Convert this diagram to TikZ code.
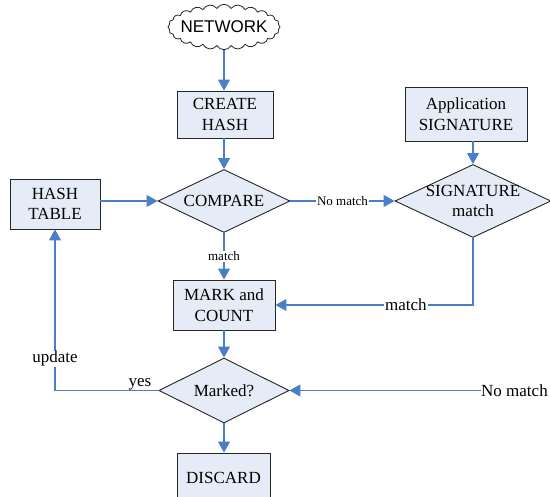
\documentclass[tikz,border=0pt]{standalone}
\usepackage{fontspec}
\setmainfont{Liberation Serif}
\newfontfamily\arialfont{Liberation Sans}
\usetikzlibrary{shapes.geometric,shapes.symbols,arrows.meta}
\definecolor{boxfill}{HTML}{E6ECF7}
\definecolor{linkblue}{HTML}{4A7EC7}
\begin{document}
\begin{tikzpicture}[x=1pt,y=-1pt,
  box/.style={draw=black!85, fill=boxfill, line width=0.9pt, align=center, inner sep=0pt, font=\fontsize{17}{20.5}\selectfont},
  dia/.style={diamond, draw=black!85, fill=boxfill, line width=0.9pt, align=center, inner xsep=-20pt, inner ysep=-10pt, font=\fontsize{17}{20.5}\selectfont},
  link/.style={draw=linkblue, line width=1.1pt, -{Triangle[length=11pt,width=12pt]}},
  small/.style={font=\fontsize{13}{15}\selectfont, fill=white, inner sep=1pt},
  big/.style={font=\fontsize{17}{20}\selectfont, fill=white, inner sep=1pt}]
\useasboundingbox (0,0) rectangle (550,497);
\node[cloud, cloud puffs=24, cloud puff arc=120, aspect=2.8, draw=black!85, fill=white, line width=0.8pt,
      minimum width=112pt, minimum height=40pt, inner sep=-6pt, font=\arialfont\fontsize{17}{20}\selectfont] (net) at (224,27) {NETWORK};
\node[box, minimum width=96pt, minimum height=47pt] (create) at (225,114.5) {CREATE\\HASH};
\node[dia, minimum width=132pt, minimum height=63pt] (compare) at (224,201) {COMPARE};
\node[box, minimum width=90pt, minimum height=50pt] (hash) at (55,204) {HASH\\TABLE};
\node[box, minimum width=122pt, minimum height=54pt] (appsig) at (466,114) {Application\\SIGNATURE};
\node[dia, minimum width=156pt, minimum height=73pt] (sig) at (473,201) {SIGNATURE\\match};
\node[box, minimum width=102pt, minimum height=50pt] (mark) at (224,305) {MARK and\\COUNT};
\node[dia, minimum width=130pt, minimum height=65pt] (marked) at (224,390.5) {Marked?};
\node[box, minimum width=93pt, minimum height=50pt] (discard) at (223.5,478) {DISCARD};
\node[big, anchor=west, inner sep=0pt] (nm) at (481,390.5) {No match};

\draw[link] (net) -- (net |- create.north);
\draw[link] (compare.north |- create.south) -- (compare.north);
\draw[link] (hash.east |- compare.west) -- (compare.west);
\draw[link] (compare.east) -- node[small]{No match} (sig.west);
\draw[link] (appsig.south -| sig.north) -- (sig.north);
\draw[link] (sig.south) |- node[big, pos=0.67]{match} (mark.east);
\draw[link] (compare.south) -- node[small]{match} (compare.south |- mark.north);
\draw[link] (mark.south -| marked.north) -- (marked.north);
\draw[link] (marked.south) -- (marked.south |- discard.north);
\draw[link] (marked.west) -| node[big, pos=0.6]{update} node[pos=0.09, anchor=base, yshift=4pt, font=\fontsize{17}{20}\selectfont, inner sep=0pt]{yes} (hash.south);
\draw[link] (nm.west) -- (marked.east);
\end{tikzpicture}
\end{document}
